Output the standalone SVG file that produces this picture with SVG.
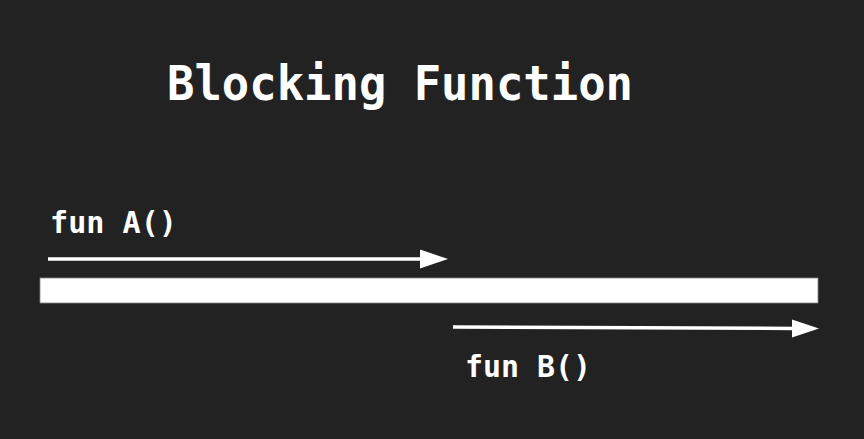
<svg xmlns="http://www.w3.org/2000/svg" width="864" height="439" viewBox="0 0 864 439">
<style>
text{font-family:"DejaVu Sans Mono","Liberation Mono",monospace;font-weight:bold;fill:#ffffff}
.ln{stroke:#ffffff;stroke-width:3.5;fill:none}
.hd{fill:#ffffff}
</style>
<rect width="864" height="439" fill="#222222"/>
<g id="title"><text x="167" y="100" font-size="48" textLength="466" lengthAdjust="spacingAndGlyphs">Blocking Function</text></g>
<g id="bar"><rect x="40" y="278" width="778" height="25" fill="#ffffff" stroke="#888888" stroke-width="0.8"/></g>
<g id="labelA"><text x="50" y="233" font-size="31" textLength="127" lengthAdjust="spacingAndGlyphs">fun A()</text></g>
<g id="labelB"><text x="465" y="377" font-size="31" textLength="126" lengthAdjust="spacingAndGlyphs">fun B()</text></g>
<g id="connectors">
<line class="ln" x1="48" y1="259" x2="424" y2="259"/>
<polygon class="hd" points="420,249.5 448,259 420,268.5"/>
<line class="ln" x1="453" y1="327" x2="796" y2="328.5"/>
<polygon class="hd" points="792,319.5 819,328.5 792,337.5"/>
</g>
</svg>
